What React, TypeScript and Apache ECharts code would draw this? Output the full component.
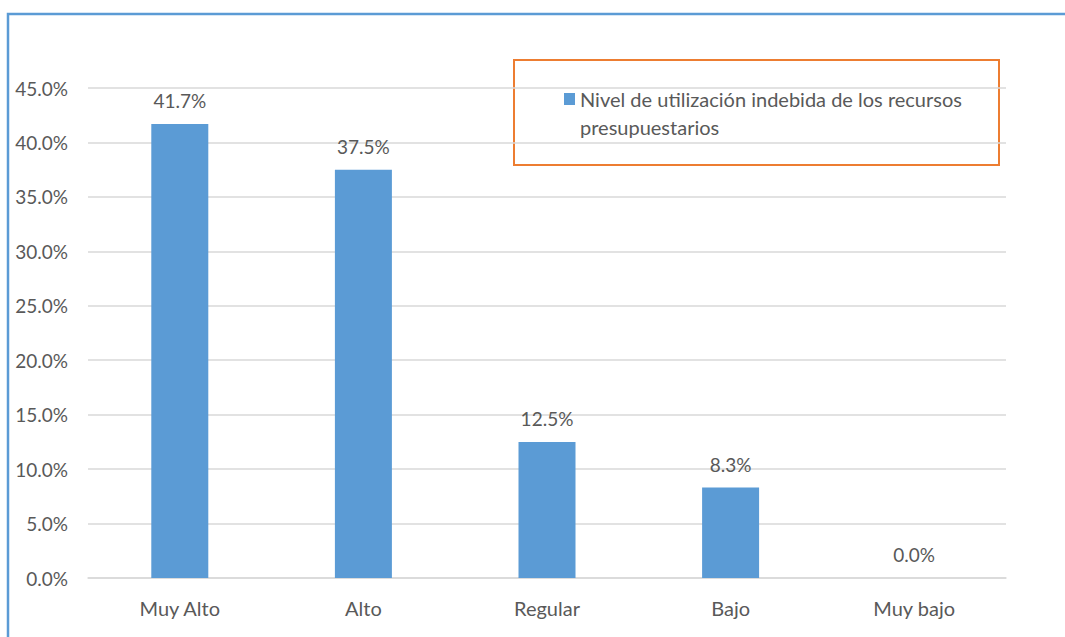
import React, { useEffect, useRef } from "react";
import * as echarts from "echarts";

const categories = ["Muy Alto", "Alto", "Regular", "Bajo", "Muy bajo"];
const values = [41.7, 37.5, 12.5, 8.3, 0.0];
const seriesName = "Nivel de utilización indebida de los recursos\npresupuestarios";
const yMin = 0;
const yMax = 45;
const yStep = 5;

const FONT = "Lato, 'Liberation Sans', sans-serif";
const TEXT = "#595959";

export default function App() {
  const ref = useRef<HTMLDivElement>(null);
  useEffect(() => {
    if (!ref.current) return;
    const chart = echarts.init(ref.current, undefined, { renderer: "svg" });
    chart.setOption({
      animation: false,
      backgroundColor: "#ffffff",
      textStyle: { fontFamily: FONT },
      grid: { left: 88, right: 59, top: 88, bottom: 59 },
      legend: {
        left: 564,
        top: 57,
        padding: 0,
        icon: "rect",
        itemWidth: 11,
        itemHeight: 12,
        selectedMode: false,
        data: [seriesName],
        formatter: (name: string) => "\n" + name,
        textStyle: {
          color: TEXT,
          fontSize: 20,
          fontFamily: FONT,
          lineHeight: 28,
        },
      },
      graphic: [
        {
          type: "rect",
          shape: { x: 8, y: 14, width: 1100, height: 700 },
          style: { fill: "none", stroke: "#5B9BD5", lineWidth: 2.5 },
          silent: true,
        },
        {
          type: "rect",
          shape: { x: 514, y: 60, width: 485, height: 105 },
          style: { fill: "none", stroke: "#ED7D31", lineWidth: 2 },
          silent: true,
        },
      ],
      xAxis: {
        type: "category",
        data: categories,
        axisTick: { show: false },
        axisLine: { show: true, lineStyle: { color: "#D9D9D9", width: 1.5 } },
        axisLabel: { color: TEXT, fontSize: 20, fontFamily: FONT, margin: 20 },
      },
      yAxis: {
        type: "value",
        min: yMin,
        max: yMax,
        interval: yStep,
        axisLine: { show: false },
        axisTick: { show: false },
        splitLine: { lineStyle: { color: "#D9D9D9", width: 1.5 } },
        axisLabel: {
          color: TEXT,
          fontSize: 19,
          fontFamily: FONT,
          margin: 20,
          formatter: (v: number) => v.toFixed(1) + "%",
        },
      },
      series: [
        {
          name: seriesName,
          type: "bar",
          data: values,
          barWidth: 57,
          itemStyle: { color: "#5B9BD5" },
          label: {
            show: true,
            position: "top",
            distance: 14,
            color: TEXT,
            fontSize: 19,
            fontFamily: FONT,
            formatter: (p: any) => Number(p.value).toFixed(1) + "%",
          },
        },
      ],
    });
    return () => chart.dispose();
  }, []);
  return (
    <div
      ref={ref}
      style={{ position: "fixed", left: 0, top: 0, width: 1065, height: 637 }}
    />
  );
}
